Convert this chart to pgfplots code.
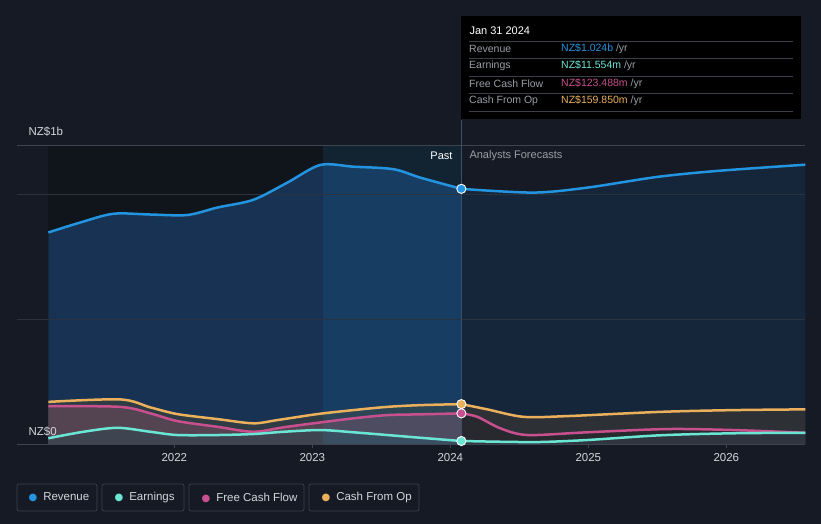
\documentclass[border=0pt]{standalone}
\usepackage{pgfplots}
\pgfplotsset{compat=1.18}
\usepackage{fontspec}
\setmainfont{Liberation Sans}
\newfontfamily\symfont{DejaVu Sans}

\definecolor{bg}{HTML}{151A24}
\definecolor{pastband}{HTML}{10141B}
\definecolor{revc}{HTML}{2394DF}
\definecolor{earnc}{HTML}{6CE6D4}
\definecolor{fcfc}{HTML}{C9508E}
\definecolor{cfoc}{HTML}{EBB05C}
\definecolor{revpast}{HTML}{173252}
\definecolor{revfc}{HTML}{16263A}
\definecolor{cfopast}{HTML}{2F3C44}
\definecolor{cfofc}{HTML}{2D3135}
\definecolor{fcfpast}{HTML}{544350}
\definecolor{fcffc}{HTML}{28292F}
\definecolor{earnpast}{HTML}{3E4550}
\definecolor{earnfc}{HTML}{2F353E}
\definecolor{gridc}{HTML}{2B323D}
\definecolor{edgec}{HTML}{3D4450}
\definecolor{labc}{HTML}{D3D6DB}
\definecolor{greyc}{HTML}{9A9EA6}
\definecolor{legc}{HTML}{3A3F4A}
\definecolor{nowc}{HTML}{38506A}

% past / forecast pieces, value in NZ$ billions
\pgfplotstableread{
x y
2021.087 0.849
2021.319 0.889
2021.558 0.924
2021.826 0.921
2022.094 0.919
2022.312 0.949
2022.572 0.980
2022.819 1.049
2023.058 1.120
2023.297 1.113
2023.587 1.103
2023.783 1.069
2024.080 1.024
}\revpast
\pgfplotstableread{
x y
2024.080 1.024
2024.601 1.009
2024.993 1.029
2025.500 1.072
2025.935 1.096
2026.572 1.121
}\revfc
\pgfplotstableread{
x y
2021.087 0.169
2021.609 0.179
2021.826 0.147
2022.022 0.120
2022.312 0.100
2022.572 0.083
2022.746 0.096
2023.036 0.120
2023.297 0.136
2023.543 0.149
2023.783 0.156
2024.080 0.160
}\cfopast
\pgfplotstableread{
x y
2024.080 0.160
2024.268 0.139
2024.529 0.109
2024.848 0.112
2025.522 0.129
2026.051 0.136
2026.572 0.139
}\cfofc
\pgfplotstableread{
x y
2021.087 0.152
2021.609 0.149
2021.826 0.123
2022.022 0.092
2022.312 0.069
2022.572 0.049
2022.790 0.067
2023.036 0.085
2023.297 0.103
2023.543 0.116
2023.783 0.119
2024.080 0.123
}\fcfpast
\pgfplotstableread{
x y
2024.080 0.123
2024.196 0.109
2024.362 0.063
2024.558 0.036
2024.993 0.047
2025.572 0.060
2026.051 0.056
2026.572 0.045
}\fcffc
\pgfplotstableread{
x y
2021.087 0.023
2021.341 0.049
2021.587 0.065
2021.826 0.049
2022.022 0.036
2022.312 0.036
2022.572 0.040
2022.790 0.049
2023.058 0.056
2023.297 0.047
2023.543 0.036
2023.783 0.025
2024.080 0.012
}\earnpast
\pgfplotstableread{
x y
2024.080 0.012
2024.362 0.009
2024.652 0.008
2024.993 0.016
2025.522 0.035
2026.051 0.043
2026.572 0.045
}\earnfc

\begin{document}
\begin{tikzpicture}[x=1pt,y=1pt]
\fill[bg] (-17,-80) rectangle (804,444);
\path[use as bounding box] (-17,-80) rectangle (804,444);

% tooltip box (behind the axis)
\fill[black] (444,325) rectangle (784,428);

\begin{axis}[
  at={(0,0)}, anchor=south west,
  width=788pt, height=299pt, scale only axis,
  xmin=2020.86, xmax=2026.57, ymin=0, ymax=1.2,
  axis line style={draw=none},
  ytick=\empty,
  xtick={2022,2023,2024,2025,2026},
  xticklabels={2022,2023,2024,2025,2026},
  tick pos=bottom, tick align=outside, major tick length=4pt,
  x tick style={color=edgec, line width=0.8pt},
  xticklabel style={font=\fontsize{11.5}{13}\selectfont, text=labc, yshift=-1.5pt},
  clip=false,
  every axis plot/.append style={smooth, tension=0.5},
]
% darker past band and fills
\fill[pastband] (axis cs:2021.087,0) rectangle (axis cs:2024.08,1.2);
\addplot[draw=none, fill=revpast] table {\revpast} \closedcycle;
\addplot[draw=none, fill=revfc] table {\revfc} \closedcycle;
\addplot[draw=none, fill=cfopast] table {\cfopast} \closedcycle;
\addplot[draw=none, fill=cfofc] table {\cfofc} \closedcycle;
\addplot[draw=none, fill=fcfpast] table {\fcfpast} \closedcycle;
\addplot[draw=none, fill=fcffc] table {\fcffc} \closedcycle;
\addplot[draw=none, fill=earnpast] table {\earnpast} \closedcycle;
\addplot[draw=none, fill=earnfc] table {\earnfc} \closedcycle;
% last-year highlight
\fill[revc, opacity=0.12] (axis cs:2023.08,0) rectangle (axis cs:2024.08,1.2);

% grid
\draw[gridc, line width=0.7pt] (axis cs:2020.86,0.5) -- (axis cs:2026.57,0.5);
\draw[gridc, line width=0.7pt] (axis cs:2020.86,1.0) -- (axis cs:2026.57,1.0);
\draw[edgec, line width=0.8pt] (axis cs:2020.86,1.2) -- (axis cs:2026.57,1.2);
\draw[edgec, line width=0.8pt] (axis cs:2020.86,0) -- (axis cs:2026.57,0);
% now line up to the tooltip
\draw[nowc, line width=0.8pt] (axis cs:2024.08,0) -- (axis cs:2024.08,1.3);

% lines
\addplot[revc, line width=2.5pt] table {\revpast};
\addplot[revc, line width=2.5pt] table {\revfc};
\addplot[cfoc, line width=2.5pt] table {\cfopast};
\addplot[cfoc, line width=2.5pt] table {\cfofc};
\addplot[fcfc, line width=2.5pt] table {\fcfpast};
\addplot[fcfc, line width=2.5pt] table {\fcffc};
\addplot[earnc, line width=2.5pt] table {\earnpast};
\addplot[earnc, line width=2.5pt] table {\earnfc};

% now marker
\addplot[only marks, mark=*, mark size=4.6pt, draw=white, line width=0.9pt, fill=revc] coordinates {(2024.08,1.024)};
\addplot[only marks, mark=*, mark size=4.6pt, draw=white, line width=0.9pt, fill=cfoc] coordinates {(2024.08,0.160)};
\addplot[only marks, mark=*, mark size=4.6pt, draw=white, line width=0.9pt, fill=fcfc] coordinates {(2024.08,0.123)};
\addplot[only marks, mark=*, mark size=4.6pt, draw=white, line width=0.9pt, fill=earnc] coordinates {(2024.08,0.012)};
\end{axis}

\node[anchor=west, text=labc, font=\fontsize{11.5}{13}\selectfont] at (8,312) {NZ\$1b};
\node[anchor=west, text=labc, font=\fontsize{11.5}{13}\selectfont] at (8,12) {NZ\$0};
\node[anchor=east, text=white, font=\fontsize{11}{13}\selectfont] at (439,288) {Past};
\node[anchor=west, text=greyc, font=\fontsize{11}{13}\selectfont] at (449,288) {Analysts Forecasts};

% tooltip text
\fill[black] (445,326) rectangle (784,428);
\node[anchor=west, text=white, font=\fontsize{11}{13}\selectfont] at (449,413) {Jan 31 2024};
\foreach \yy in {403,386,368,351,333} \draw[color=legc, line width=0.7pt] (452,\yy) -- (776,\yy);
\begin{scope}[every node/.style={anchor=west, font=\fontsize{10.5}{12}\selectfont, inner xsep=3pt}]
\node[text=greyc] at (449,395) {Revenue};
\node[text=greyc] at (449,378) {Earnings};
\node[text=greyc] at (449,360) {Free Cash Flow};
\node[text=greyc] at (449,343) {Cash From Op};
\node at (541,395) {\textcolor{revc}{NZ\$1.024b} \textcolor{greyc}{/yr}};
\node at (541,378) {\textcolor{earnc}{NZ\$11.554m} \textcolor{greyc}{/yr}};
\node at (541,360) {\textcolor{fcfc}{NZ\$123.488m} \textcolor{greyc}{/yr}};
\node at (541,343) {\textcolor{cfoc}{NZ\$159.850m} \textcolor{greyc}{/yr}};
\end{scope}

% legend
\begin{scope}[every node/.style={anchor=west, text=labc, font=\fontsize{11.5}{13}\selectfont}]
\draw[legc, line width=0.8pt, rounded corners=2pt] (0,-40) rectangle (80,-67);
\draw[legc, line width=0.8pt, rounded corners=2pt] (85,-40) rectangle (167,-67);
\draw[legc, line width=0.8pt, rounded corners=2pt] (172,-40) rectangle (287,-67);
\draw[legc, line width=0.8pt, rounded corners=2pt] (292,-40) rectangle (402,-67);
\node at (8,-53.5) {{\symfont\fontsize{10}{10}\selectfont\textcolor{revc}{●}}\hspace{6pt}Revenue};
\node at (94,-53.5) {{\symfont\fontsize{10}{10}\selectfont\textcolor{earnc}{●}}\hspace{6pt}Earnings};
\node at (181,-53.5) {{\symfont\fontsize{10}{10}\selectfont\textcolor{fcfc}{●}}\hspace{6pt}Free Cash Flow};
\node at (301,-53.5) {{\symfont\fontsize{10}{10}\selectfont\textcolor{cfoc}{●}}\hspace{6pt}Cash From Op};
\end{scope}
\end{tikzpicture}
\end{document}
